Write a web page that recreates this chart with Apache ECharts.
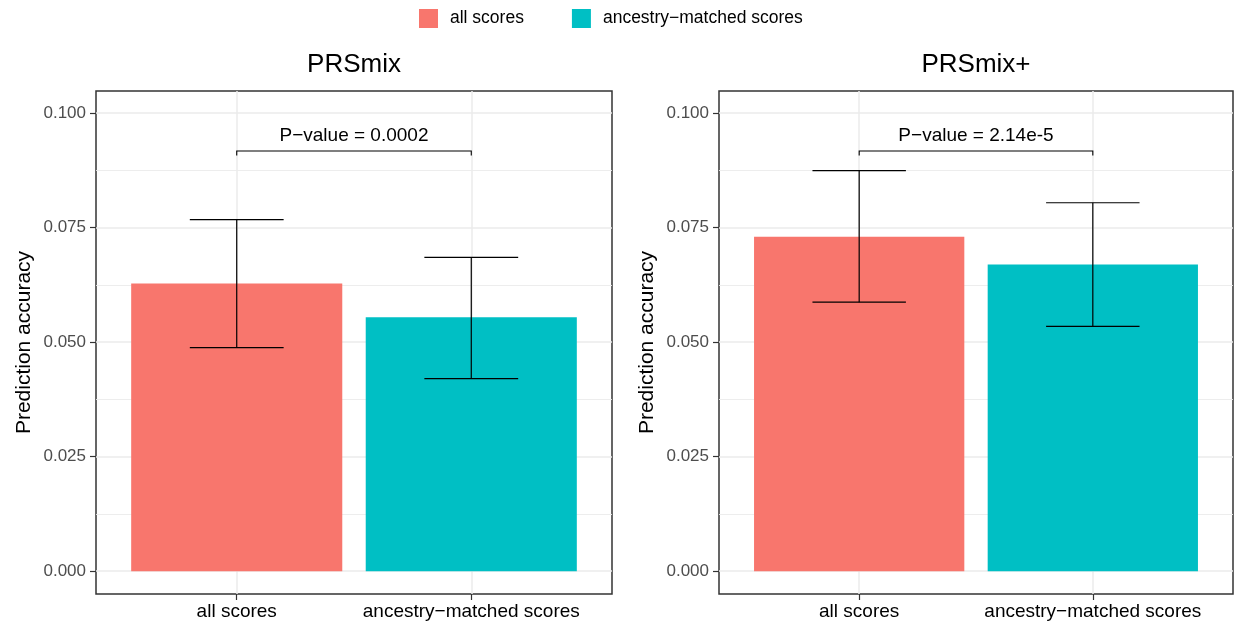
<!DOCTYPE html>
<html>
<head>
<meta charset="utf-8">
<script src="https://cdn.jsdelivr.net/npm/echarts@6/dist/echarts.min.js"></script>
<style>html,body{margin:0;padding:0;background:#fff;}#chart{width:1236px;height:625px;}</style>
</head>
<body>
<div id="chart"></div>
<script>
// ---- data ----
const panelTitles = ['PRSmix', 'PRSmix+'];
const categories = ['all scores', 'ancestry\u2212matched scores'];
const prsmixMean = [0.0628, 0.0554];
const prsmixLower = [0.0488, 0.0420];
const prsmixUpper = [0.0767, 0.0685];
const prsmixPlusMean = [0.0730, 0.0669];
const prsmixPlusLower = [0.0587, 0.0534];
const prsmixPlusUpper = [0.0874, 0.0804];
const pValueLabels = ['P\u2212value = 0.0002', 'P\u2212value = 2.14e-5'];
const bracketTop = 0.0917;
const bracketEnd = 0.0907;
const pLabelY = 0.0950;
const yTicks = [0, 0.025, 0.05, 0.075, 0.1];
const yMinorTicks = [0.0125, 0.0375, 0.0625, 0.0875];
const yMin = -0.00499, yMax = 0.10479;
const xPositions = [1, 2];

// ---- styling ----
const FONT = 'Liberation Sans, Arial, Helvetica, sans-serif';
const colors = ['#F8766D', '#00BFC4'];
const gridCol = '#EBEBEB';

const chart = echarts.init(document.getElementById('chart'), null, {renderer: 'canvas'});

const grids = [
  {left: 96, top: 91, width: 516, height: 503},
  {left: 719, top: 91, width: 514, height: 503}
].map(g => Object.assign(g, {show: true, borderColor: '#333333', borderWidth: 1.5, backgroundColor: 'transparent', containLabel: false}));

const xAxes = [0, 1].map(i => ({
  type: 'value', gridIndex: i, min: 0.4, max: 2.6, position: 'bottom',
  axisLine: {show: false, onZero: false},
  axisTick: {show: true, length: 6, customValues: xPositions, lineStyle: {color: '#333333', width: 1.2}},
  axisLabel: {show: true, customValues: xPositions, margin: 8, fontSize: 19, fontFamily: FONT, color: '#000',
    formatter: v => categories[Math.round(v) - 1]},
  splitLine: {show: true, lineStyle: {color: gridCol, width: 1.5}}
}));

const yMajor = [0, 1].map(i => ({
  type: 'value', gridIndex: i, min: yMin, max: yMax, position: 'left',
  name: 'Prediction accuracy', nameLocation: 'middle', nameRotate: 90, nameGap: 61,
  nameTextStyle: {fontSize: 21, fontFamily: FONT, color: '#000'},
  axisLine: {show: false, onZero: false},
  axisTick: {show: true, length: 6, customValues: yTicks, lineStyle: {color: '#333333', width: 1.2}},
  axisLabel: {show: true, customValues: yTicks, margin: 10, fontSize: 17, fontFamily: FONT, color: '#4D4D4D',
    formatter: v => v.toFixed(3)},
  splitLine: {show: true, lineStyle: {color: gridCol, width: 1.5}}
}));
const yMinor = [0, 1].map(i => ({
  type: 'value', gridIndex: i, min: yMin, max: yMax, position: 'left', offset: 0,
  axisLine: {show: false, onZero: false},
  axisTick: {show: false, customValues: yMinorTicks},
  axisLabel: {show: false, customValues: yMinorTicks},
  splitLine: {show: true, lineStyle: {color: gridCol, width: 0.9}}
}));

function barRender(params, api) {
  const x = api.value(0), v = api.value(1);
  const p0 = api.coord([x - 0.45, v]);
  const p1 = api.coord([x + 0.45, 0]);
  return {type: 'rect', shape: {x: p0[0], y: p0[1], width: p1[0] - p0[0], height: p1[1] - p0[1]},
    style: {fill: api.visual('color')}};
}
function errRender(params, api) {
  const x = api.value(0), lo = api.value(1), hi = api.value(2);
  const t = api.coord([x, hi]), b = api.coord([x, lo]);
  const hw = api.size([0.2, 0])[0];
  const st = {stroke: '#000', lineWidth: 1.2, fill: null};
  return {type: 'group', children: [
    {type: 'line', shape: {x1: t[0], y1: t[1], x2: b[0], y2: b[1]}, style: st},
    {type: 'line', shape: {x1: t[0] - hw, y1: t[1], x2: t[0] + hw, y2: t[1]}, style: st},
    {type: 'line', shape: {x1: b[0] - hw, y1: b[1], x2: b[0] + hw, y2: b[1]}, style: st}
  ]};
}
function bracketRender(label) {
  return function (params, api) {
    const x1 = api.value(0), x2 = api.value(1), yt = api.value(2), ye = api.value(3), yl = api.value(4);
    const a = api.coord([x1, ye]), b = api.coord([x1, yt]), c = api.coord([x2, yt]), d = api.coord([x2, ye]);
    const m = api.coord([(x1 + x2) / 2, yl]);
    return {type: 'group', children: [
      {type: 'polyline', shape: {points: [a, b, c, d]}, style: {stroke: '#000', lineWidth: 1.1, fill: null}},
      {type: 'text', x: m[0], y: m[1], style: {text: label, align: 'center', verticalAlign: 'middle',
        fontSize: 19, fontFamily: FONT, fill: '#000'}}
    ]};
  };
}

const panels = [
  {mean: prsmixMean, lo: prsmixLower, hi: prsmixUpper},
  {mean: prsmixPlusMean, lo: prsmixPlusLower, hi: prsmixPlusUpper}
];
const series = [];
panels.forEach((p, i) => {
  categories.forEach((cat, k) => {
    series.push({type: 'custom', name: cat, xAxisIndex: i, yAxisIndex: i,
      itemStyle: {color: colors[k]}, renderItem: barRender,
      encode: {x: 0, y: 1}, data: [[xPositions[k], p.mean[k]]], z: 2});
  });
  series.push({type: 'custom', name: 'err' + i, xAxisIndex: i, yAxisIndex: i, renderItem: errRender,
    encode: {x: 0, y: [1, 2]}, data: xPositions.map((x, k) => [x, p.lo[k], p.hi[k]]), z: 3, silent: true});
  series.push({type: 'custom', name: 'bracket' + i, xAxisIndex: i, yAxisIndex: i, renderItem: bracketRender(pValueLabels[i]),
    encode: {x: [0, 1], y: [2, 3, 4]}, data: [[xPositions[0], xPositions[1], bracketTop, bracketEnd, pLabelY]], z: 3, silent: true});
});

const option = {
  animation: false,
  backgroundColor: '#ffffff',
  grid: grids,
  xAxis: xAxes,
  yAxis: yMajor.concat(yMinor),
  legend: {
    data: categories, top: 4, left: 414, itemWidth: 19, itemHeight: 19, itemGap: 48,
    icon: 'rect', selectedMode: false,
    textStyle: {fontSize: 17.5, fontFamily: FONT, color: '#000', padding: [0, 0, 0, 7]}
  },
  graphic: panelTitles.map((t, i) => ({
    type: 'text', x: grids[i].left + grids[i].width / 2, y: 65,
    style: {text: t, align: 'center', verticalAlign: 'middle', fontSize: 26, fontFamily: FONT, fill: '#000'}
  })),
  series: series
};
chart.setOption(option);
</script>
</body>
</html>
